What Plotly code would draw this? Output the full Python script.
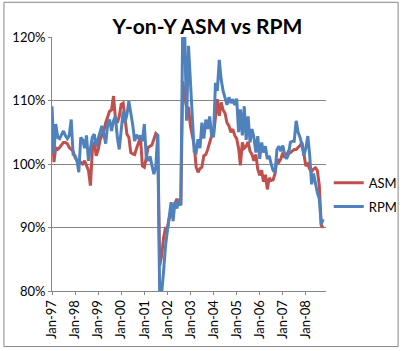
import pandas as pd
import plotly.graph_objects as go

# Monthly year-on-year ratios (%), Jan-1997 .. Oct-2008
rpm = [
    109.1, 101.6, 106.3, 104.2, 104.0, 104.5, 105.2, 104.5, 104.0, 104.5, 107.0, 101.5,  # 1997
    101.3, 100.5, 98.7, 104.2, 103.8, 102.5, 104.5, 100.5, 102.5, 104.2, 104.7, 102.7,   # 1998
    104.0, 105.0, 106.0, 104.7, 103.2, 106.2, 107.0, 105.2, 106.8, 107.5, 104.2, 102.3,  # 1999
    106.0, 108.3, 106.5, 107.8, 109.9, 108.3, 106.2, 103.6, 104.6, 104.0, 104.5, 103.6,  # 2000
    106.3, 101.0, 100.5, 101.2, 99.8, 98.4, 99.5, 104.7, 79.5, 79.5, 83.0, 87.0,         # 2001
    89.5, 91.5, 94.0, 91.0, 94.0, 93.0, 94.5, 93.5, 122.0, 121.0, 106.8, 118.6,          # 2002
    113.0, 108.0, 102.0, 101.8, 103.9, 102.5, 106.5, 104.0, 107.0, 105.5, 107.5, 104.5,  # 2003
    104.5, 112.8, 111.5, 116.4, 113.3, 111.5, 110.5, 109.3, 110.5, 109.6, 110.2, 109.3,  # 2004
    110.3, 105.0, 108.6, 104.5, 109.1, 103.8, 107.5, 103.4, 105.5, 104.2, 101.8, 104.4,  # 2005
    100.8, 103.4, 101.8, 102.8, 100.8, 101.3, 100.0, 99.0, 98.7, 102.3, 102.8, 102.0,    # 2006
    102.9, 101.5, 100.8, 101.5, 103.4, 103.6, 103.6, 106.8, 105.0, 104.2, 103.0, 101.3,  # 2007
    102.5, 104.4, 101.5, 96.8, 98.5, 96.6, 95.5, 94.5, 90.5, 91.3,                       # 2008
]
asm = [
    106.3, 100.3, 102.6, 102.3, 102.6, 103.0, 103.4, 103.4, 103.2, 102.6, 102.3, 102.0,  # 1997
    101.0, 100.5, 100.5, 100.2, 100.0, 100.5, 99.8, 99.0, 96.6, 102.1, 103.5, 101.3,     # 1998
    102.2, 103.8, 104.5, 105.2, 106.5, 107.3, 108.3, 108.5, 110.7, 107.3, 106.5, 107.5,  # 1999
    109.4, 109.6, 106.8, 104.7, 104.2, 101.8, 101.6, 101.5, 102.5, 103.3, 104.2, 99.7,   # 2000
    99.5, 101.0, 102.6, 102.8, 103.0, 103.9, 104.8, 104.5, 84.0, 85.5, 88.3, 89.9,       # 2001
    89.9, 91.5, 92.0, 93.5, 93.8, 94.5, 94.0, 93.5, 113.0, 110.5, 109.0, 108.8,          # 2002
    106.0, 104.5, 103.0, 99.5, 98.7, 99.3, 99.5, 101.3, 101.5, 102.3, 103.5, 104.4,      # 2003
    104.4, 108.0, 110.2, 107.6, 109.7, 108.5, 108.0, 106.5, 106.0, 105.0, 105.5, 104.5,  # 2004
    104.0, 102.5, 99.8, 103.4, 102.5, 102.8, 103.5, 102.0, 101.5, 100.5, 101.5, 99.2,    # 2005
    98.2, 99.0, 97.2, 98.3, 96.0, 97.8, 97.4, 97.5, 98.5, 100.8, 100.3, 100.8,           # 2006
    101.8, 101.0, 101.6, 102.0, 101.8, 102.0, 102.3, 102.3, 102.6, 102.9, 103.4, 101.5,  # 2007
    99.7, 100.0, 99.2, 98.8, 99.2, 99.4, 99.0, 96.6, 90.3, 90.0,                         # 2008
]
months = pd.date_range("1997-01-01", periods=len(rpm), freq="MS")
y_ticks = [80, 90, 100, 110, 120]
y_labels = ["80%", "90%", "100%", "110%", "120%"]

FONT = "Lato, 'Open Sans', Arial, sans-serif"

fig = go.Figure()
fig.add_trace(go.Scatter(x=months, y=asm, name="ASM", mode="lines", legendgroup="a",
                         line=dict(color="#C0504D", width=3)))
fig.add_trace(go.Scatter(x=months, y=rpm, name="RPM", mode="lines", legendgroup="b",
                         line=dict(color="#4F81BD", width=3)))

fig.update_layout(
    width=415, height=351,
    margin=dict(l=52, r=78, t=37, b=58),
    paper_bgcolor="white", plot_bgcolor="white",
    font=dict(family=FONT, color="#000000", size=12),
    title=dict(text="<b>Y-on-Y ASM vs RPM</b>", x=0.5, xanchor="center", y=0.925, yanchor="middle",
               font=dict(family=FONT, size=21, color="#000000")),
    legend=dict(x=1.01, xanchor="left", y=0.379, yanchor="middle",
                font=dict(family=FONT, size=13), tracegroupgap=4,
                bgcolor="rgba(0,0,0,0)"),
    xaxis=dict(
        type="date", range=["1997-01-01", "2008-11-15"],
        tick0="1997-01-01", dtick="M12", tickformat="%b-%y", tickangle=-90,
        showgrid=False, showline=True, linecolor="#868686", linewidth=1,
        ticks="outside", ticklen=3, tickcolor="#868686",
        tickfont=dict(family=FONT, size=13), zeroline=False,
    ),
    yaxis=dict(
        range=[80, 120], tickmode="array", tickvals=y_ticks, ticktext=y_labels,
        showgrid=True, gridcolor="#868686", gridwidth=1,
        showline=True, linecolor="#868686", linewidth=1,
        ticks="outside", ticklen=3, tickcolor="#868686",
        tickfont=dict(family=FONT, size=13), zeroline=False,
    ),
    shapes=[dict(type="rect", xref="paper", yref="paper",
                 x0=(2 - 52) / 285, x1=(412 - 52) / 285,
                 y0=(293 - 349) / 256, y1=(293 - 2) / 256,
                 line=dict(color="#868686", width=1), fillcolor="rgba(0,0,0,0)", layer="below")],
)

fig.write_html("out.html")
